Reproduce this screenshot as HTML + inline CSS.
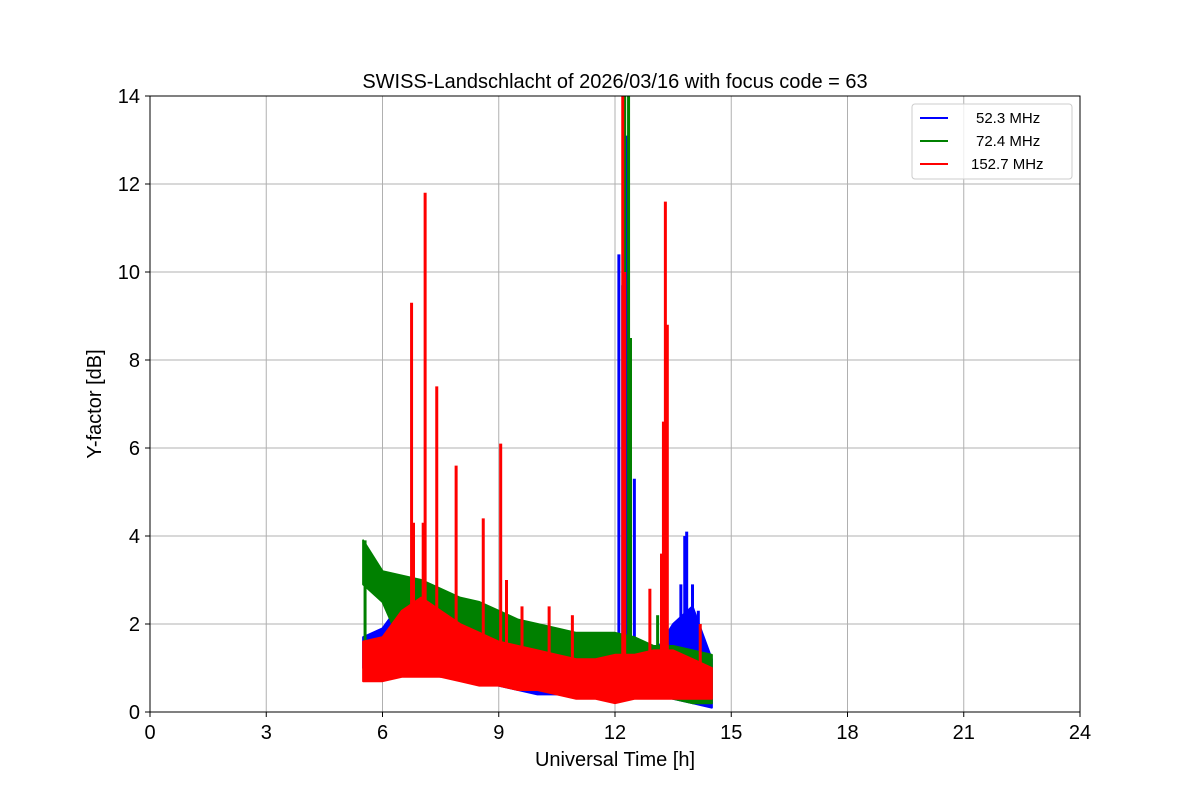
<!DOCTYPE html>
<html><head><meta charset="utf-8"><style>
body{margin:0;background:#fff;}
svg{display:block;font-family:"Liberation Sans","DejaVu Sans",sans-serif;}
</style></head><body>
<svg id="chart" width="1200" height="800" xmlns="http://www.w3.org/2000/svg">
<rect width="1200" height="800" fill="#fff"/>
<g id="grid"></g>
<g id="plot"></g>
<rect x="150" y="96" width="930" height="616" fill="none" stroke="#000" stroke-width="1"/>
<g id="ticks"></g>
<text x="615" y="88" font-size="20" text-anchor="middle">SWISS-Landschlacht of 2026/03/16 with focus code = 63</text>
<text x="615" y="766" font-size="20" text-anchor="middle">Universal Time [h]</text>
<text x="101" y="404" font-size="20" text-anchor="middle" transform="rotate(-90 101 404)">Y-factor [dB]</text>
<g>
<rect x="912" y="104" width="160" height="75" rx="3" fill="#fff" fill-opacity="0.8" stroke="#ccc"/>
<line x1="920" y1="118" x2="948" y2="118" stroke="blue" stroke-width="2"/>
<text x="976" y="123" font-size="15">52.3 MHz</text>
<line x1="920" y1="141" x2="948" y2="141" stroke="green" stroke-width="2"/>
<text x="976" y="146" font-size="15">72.4 MHz</text>
<line x1="920" y1="164" x2="948" y2="164" stroke="red" stroke-width="2"/>
<text x="971" y="169" font-size="15">152.7 MHz</text>
</g>
</svg>
<script>
const xTicks=[0,3,6,9,12,15,18,21,24];
const yTicks=[0,2,4,6,8,10,12,14];
const times=[5.5,6,6.5,7,7.5,8,8.5,9,9.5,10,10.5,11,11.5,12,12.5,13,13.5,14,14.5];
const greenLo=[2.9,2.5,1.5,1.2,1.0,1.0,0.9,0.8,0.7,0.7,0.6,0.6,0.6,0.6,0.6,0.5,0.3,0.2,0.2];
const greenHi=[3.9,3.2,3.1,3.0,2.8,2.6,2.5,2.3,2.1,2.0,1.9,1.8,1.8,1.8,1.7,1.5,1.5,1.4,1.3];
const blueLo=[1.0,1.0,1.0,0.9,0.8,0.8,0.7,0.6,0.5,0.4,0.4,0.4,0.4,0.3,0.4,0.4,0.3,0.2,0.1];
const blueHi=[1.7,1.9,2.5,2.3,2.0,1.8,1.6,1.5,1.4,1.3,1.2,1.2,1.1,1.2,1.3,1.3,2.0,2.4,1.2];
const redLo=[0.7,0.7,0.8,0.8,0.8,0.7,0.6,0.6,0.5,0.5,0.4,0.3,0.3,0.2,0.3,0.3,0.3,0.3,0.3];
const redHi=[1.6,1.7,2.3,2.6,2.3,2.0,1.8,1.6,1.5,1.4,1.3,1.2,1.2,1.3,1.3,1.4,1.4,1.2,1.0];
const blueSpikeT=[6.3,6.55,12.1,12.2,12.3,12.5,13.7,13.8,13.85,14.0,14.15];
const blueSpikeV=[2.3,3.0,10.4,9.7,13.1,5.3,2.9,4.0,4.1,2.9,2.3];
const greenSpikeT=[5.55,12.25,12.35,12.4,13.1];
const greenSpikeV=[3.9,14,14,8.5,2.2];
const redSpikeT=[6.75,6.8,7.05,7.1,7.4,7.9,8.6,9.05,9.2,9.6,10.3,10.9,12.2,12.25,12.9,13.2,13.25,13.3,13.35,14.2];
const redSpikeV=[9.3,4.3,4.3,11.8,7.4,5.6,4.4,6.1,3.0,2.4,2.4,2.2,14,10,2.8,3.6,6.6,11.6,8.8,2.0];

const X=t=>150+t*930/24;
const Y=v=>712-v*616/14;
const NS="http://www.w3.org/2000/svg";
const grid=document.getElementById('grid'),plot=document.getElementById('plot'),ticks=document.getElementById('ticks');
function mk(tag,attrs,parent){const e=document.createElementNS(NS,tag);for(const k in attrs)e.setAttribute(k,attrs[k]);parent.appendChild(e);return e;}
xTicks.forEach(t=>{
  const g=mk('line',{x1:X(t),x2:X(t),y1:96,y2:712,stroke:'#b0b0b0','stroke-width':1},grid);
  
  
  const tk=mk('line',{x1:X(t),x2:X(t),y1:712,y2:717,stroke:'#000'},ticks);
  
  
  const tx=mk('text',{x:X(t),y:739,'font-size':20,'text-anchor':'middle'},ticks);
  tx.textContent=t;
  
  
});
yTicks.forEach(v=>{
  const g=mk('line',{x1:150,x2:1080,y1:Y(v),y2:Y(v),stroke:'#b0b0b0','stroke-width':1},grid);
  
  
  const tk=mk('line',{x1:145,x2:150,y1:Y(v),y2:Y(v),stroke:'#000'},ticks);
  
  
  const tx=mk('text',{x:140,y:Y(v)+7,'font-size':20,'text-anchor':'end'},ticks);
  tx.textContent=v;
  
  
});
function band(lo,hi,col,name){
  let pts=times.map((t,i)=>X(t)+','+Y(hi[i]));
  for(let i=times.length-1;i>=0;i--)pts.push(X(times[i])+','+Y(lo[i]));
  const p=mk('polygon',{points:pts.join(' '),fill:col,stroke:col,'stroke-width':2,'stroke-linejoin':'round'},plot);
  
  
}
function spikes(ts,vs,col,name){
  ts.forEach((t,i)=>{
    const l=mk('line',{x1:X(t),x2:X(t),y1:Y(0.8),y2:Math.max(96,Y(vs[i])),stroke:col,'stroke-width':3},plot);
    
    
  });
}
band(blueLo,blueHi,'blue','series-52mhz');
spikes(blueSpikeT,blueSpikeV,'blue','spike-52mhz');
band(greenLo,greenHi,'green','series-72mhz');
spikes(greenSpikeT,greenSpikeV,'green','spike-72mhz');
band(redLo,redHi,'red','series-152mhz');
spikes(redSpikeT,redSpikeV,'red','spike-152mhz');
</script>
</body></html>
